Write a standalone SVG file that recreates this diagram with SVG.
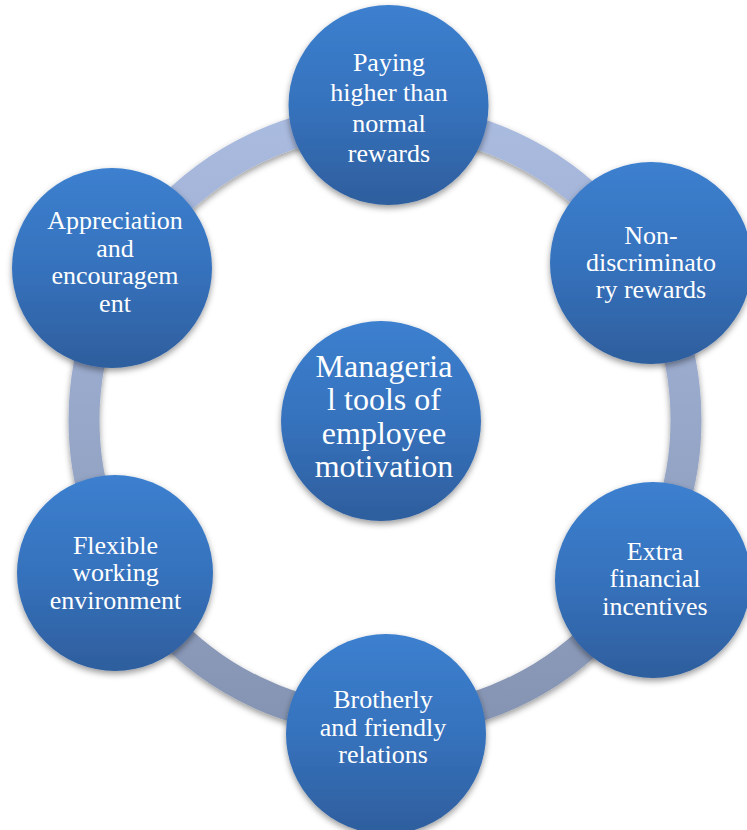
<svg xmlns="http://www.w3.org/2000/svg" width="747" height="830" viewBox="0 0 747 830">
<defs>
<linearGradient id="gNode" x1="0" y1="0" x2="0" y2="1">
<stop offset="0" stop-color="#3c80cf"/>
<stop offset="0.5" stop-color="#3672bd"/>
<stop offset="1" stop-color="#2e5e9d"/>
</linearGradient>
<linearGradient id="gRing" gradientUnits="userSpaceOnUse" x1="0" y1="119" x2="0" y2="721">
<stop offset="0" stop-color="#aabbe0"/>
<stop offset="1" stop-color="#8594b2"/>
</linearGradient>
<filter id="sh" x="-20%" y="-20%" width="140%" height="150%">
<feDropShadow dx="0" dy="3" stdDeviation="3" flood-color="#000" flood-opacity="0.4"/>
</filter>
</defs>
<style>
.node{fill:url(#gNode);filter:url(#sh)}
.t{font-family:"Liberation Serif","Times New Roman",serif;font-size:26px;fill:#fff;text-anchor:middle}
.tc{font-size:32px}
</style>
<rect width="747" height="830" fill="#fff"/>
<g id="connectors">
<circle cx="385" cy="420" r="301" fill="none" stroke="url(#gRing)" stroke-width="31" filter="url(#sh)"/>
</g>
<g id="center">
<circle class="node" cx="381" cy="421" r="100"/>
<text class="t tc" x="384" y="377">Manageria</text>
<text class="t tc" x="384" y="410">l tools of</text>
<text class="t tc" x="384" y="444">employee</text>
<text class="t tc" x="384" y="477">motivation</text>
</g>
<g id="n1">
<circle class="node" cx="388.5" cy="105" r="100"/>
<text class="t" x="389" y="71">Paying</text>
<text class="t" x="389" y="101">higher than</text>
<text class="t" x="389" y="131.5">normal</text>
<text class="t" x="389" y="161.5">rewards</text>
</g>
<g id="n2">
<circle class="node" cx="651" cy="263" r="101"/>
<text class="t" x="651" y="243.5">Non-</text>
<text class="t" x="651" y="271">discriminato</text>
<text class="t" x="651" y="297.5">ry rewards</text>
</g>
<g id="n3">
<circle class="node" cx="653" cy="580" r="98"/>
<text class="t" x="655" y="559.5">Extra</text>
<text class="t" x="655" y="587">financial</text>
<text class="t" x="655" y="614.5">incentives</text>
</g>
<g id="n4">
<circle class="node" cx="386" cy="734" r="100"/>
<text class="t" x="383" y="708">Brotherly</text>
<text class="t" x="383" y="735.5">and friendly</text>
<text class="t" x="383" y="763">relations</text>
</g>
<g id="n5">
<circle class="node" cx="115" cy="573" r="98"/>
<text class="t" x="115.5" y="553.5">Flexible</text>
<text class="t" x="115.5" y="581">working</text>
<text class="t" x="115.5" y="608.5">environment</text>
</g>
<g id="n6">
<circle class="node" cx="112" cy="268" r="100"/>
<text class="t" x="115" y="229">Appreciation</text>
<text class="t" x="115" y="256.5">and</text>
<text class="t" x="115" y="284">encouragem</text>
<text class="t" x="115" y="311.5">ent</text>
</g>
</svg>
